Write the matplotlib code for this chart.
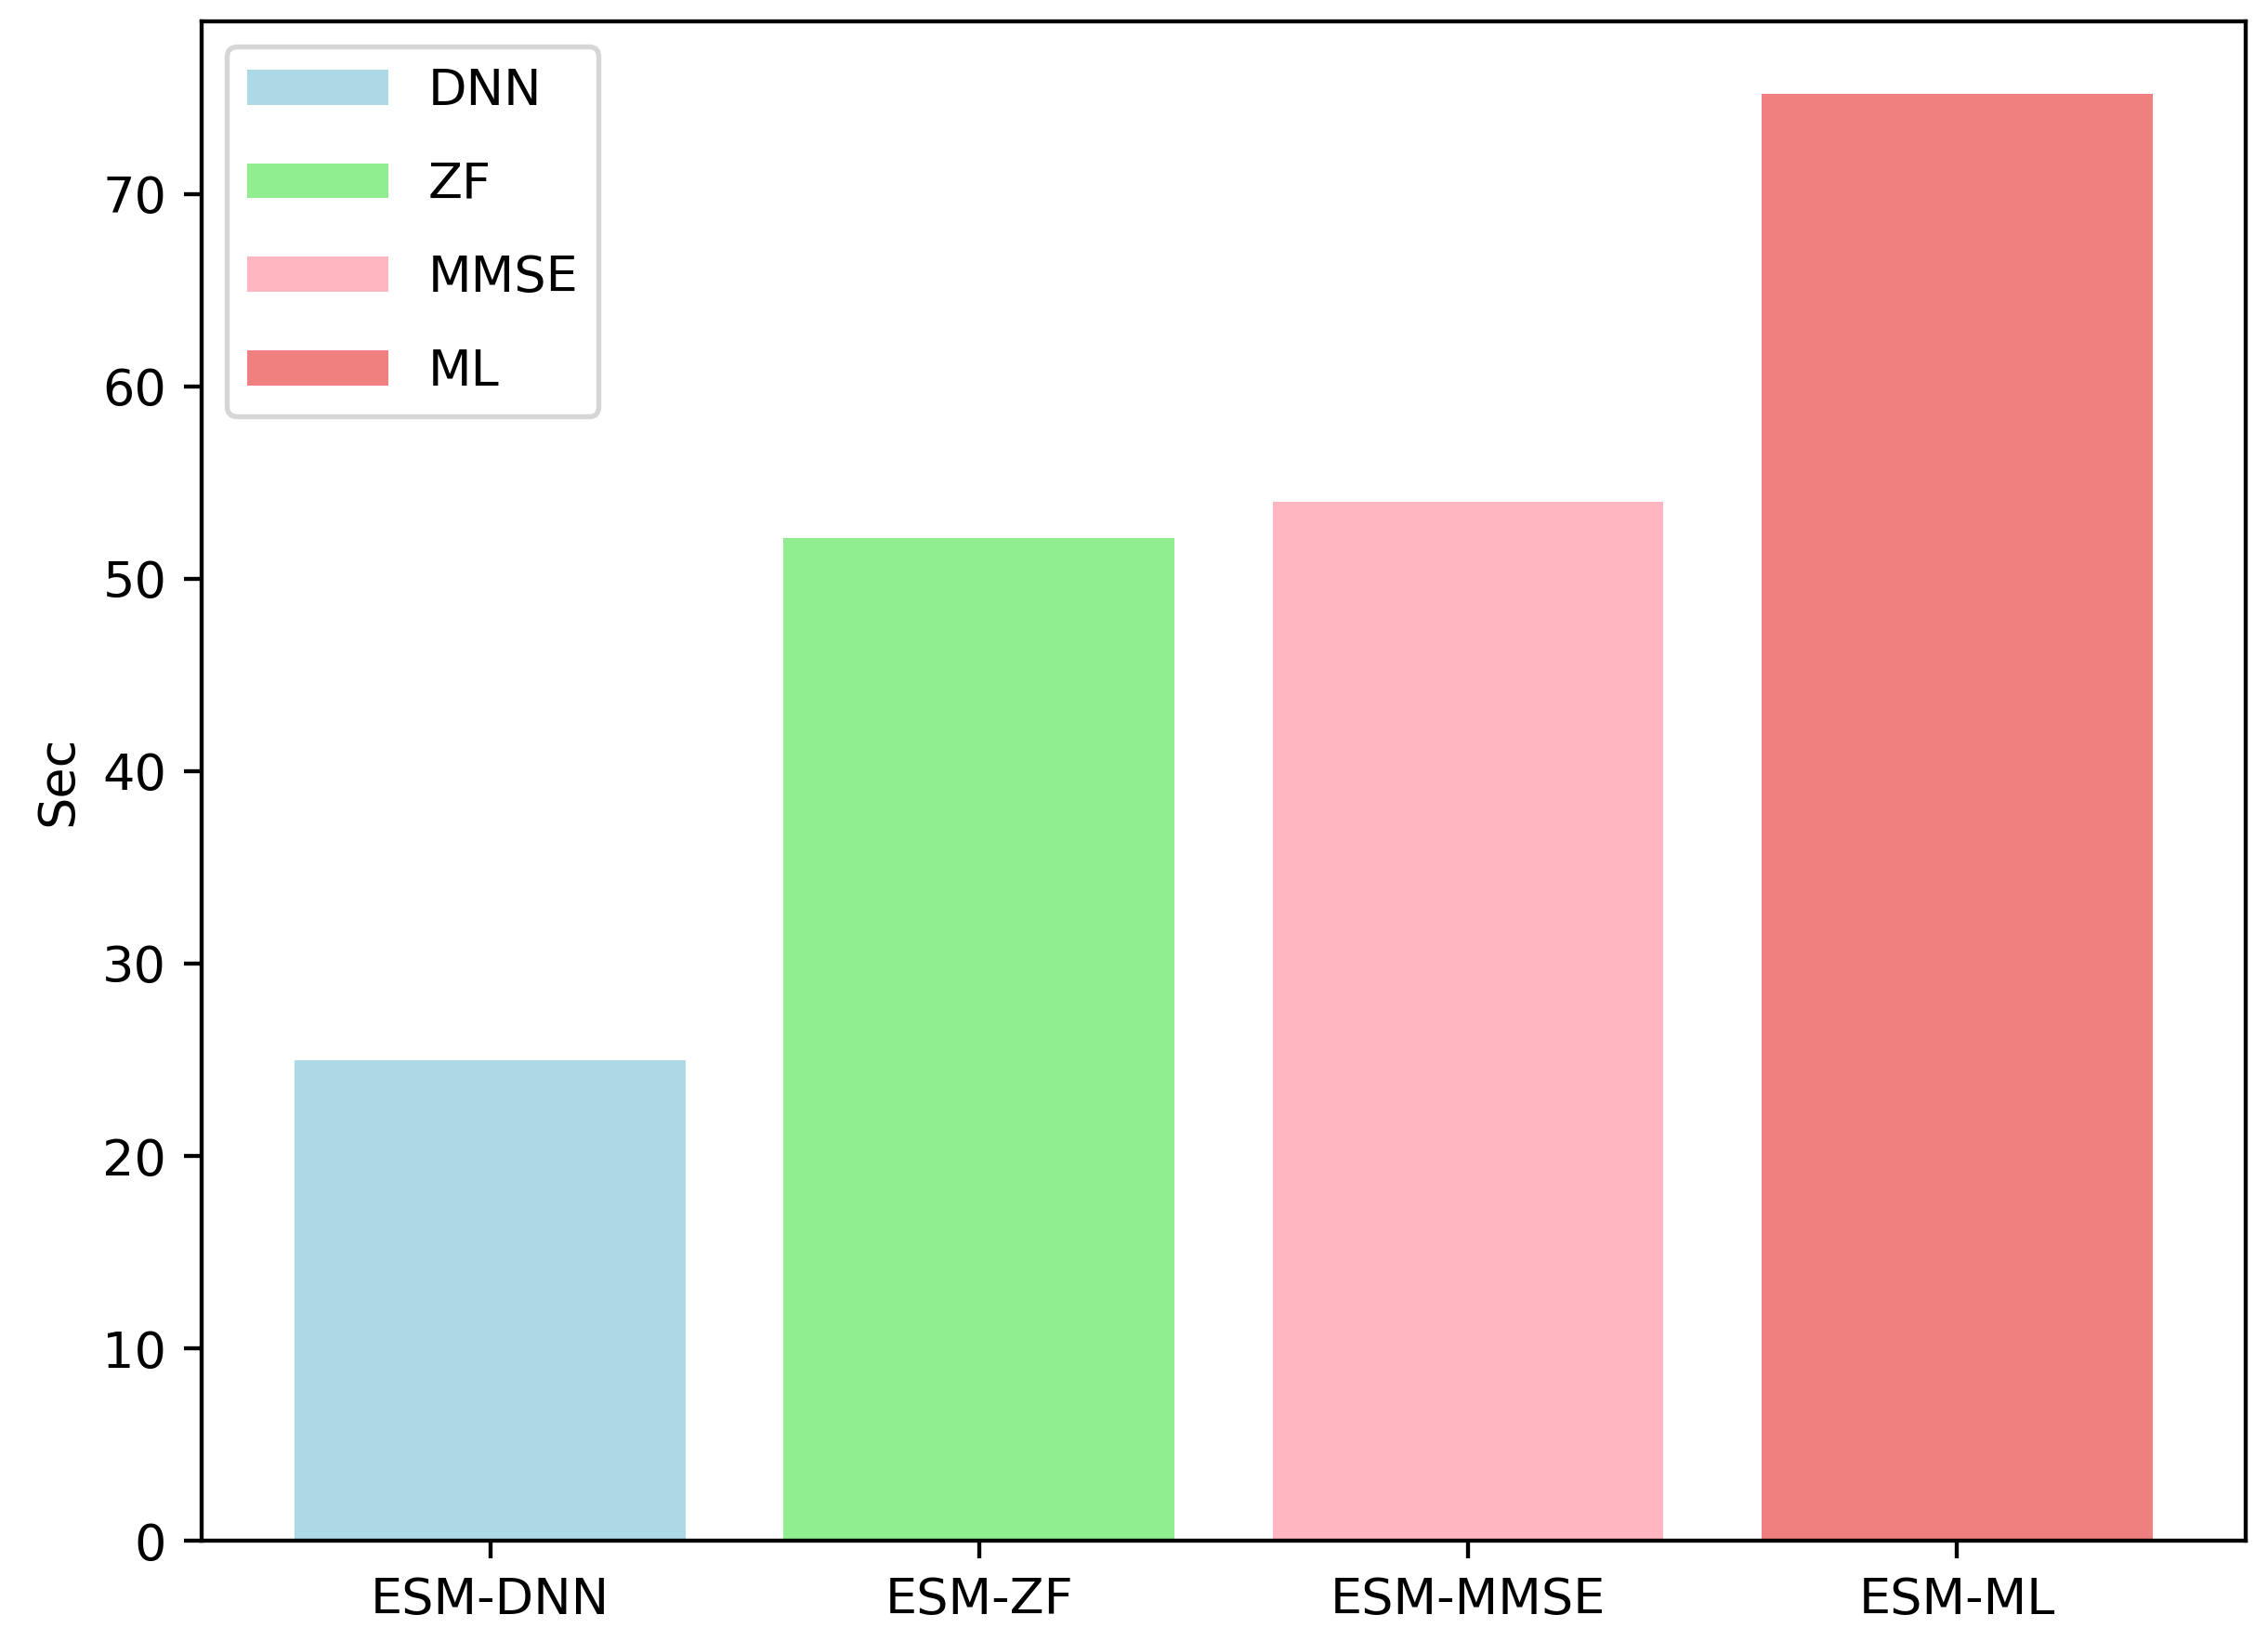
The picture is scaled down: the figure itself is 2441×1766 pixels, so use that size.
import matplotlib
matplotlib.use("Agg")
import matplotlib.pyplot as plt

categories = ["ESM-DNN", "ESM-ZF", "ESM-MMSE", "ESM-ML"]
labels = ["DNN", "ZF", "MMSE", "ML"]
values = [25.0, 52.1, 54.0, 75.2]
colors = ["lightblue", "lightgreen", "lightpink", "lightcoral"]

fig, ax = plt.subplots(figsize=(2441 / 390, 1766 / 390), dpi=390)
fig.subplots_adjust(left=0.089, right=0.990, top=0.987, bottom=0.061)

for cat, val, lab, col in zip(categories, values, labels, colors):
    ax.bar(cat, val, color=col, label=lab)

ax.set_ylabel("Sec")
ax.legend(loc="upper left", handlelength=2.8, labelspacing=0.9)

fig.savefig("out.png", dpi=390)
